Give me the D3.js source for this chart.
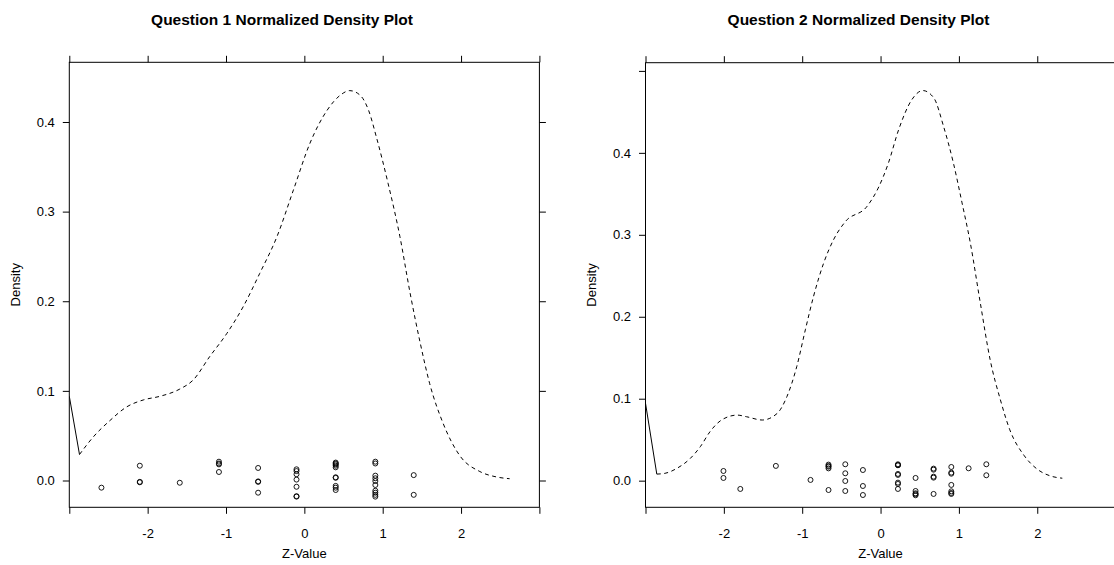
<!DOCTYPE html>
<html>
<head>
<meta charset="utf-8">
<script src="https://cdn.jsdelivr.net/npm/d3@7"></script>
<style>
  html, body { margin: 0; padding: 0; background: #fff; }
  svg { display: block; }
  text { font-family: "Liberation Sans", Arial, Helvetica, sans-serif; fill: #000; }
</style>
</head>
<body>
<svg id="chart" width="1114" height="565"></svg>
<script>
// ---------------- DATA ----------------
const xTickValues = [-3, -2, -1, 0, 1, 2, 3];
const xTickLabels = ["", "-2", "-1", "0", "1", "2", ""];

const q1YTickValues = [0, 0.1, 0.2, 0.3, 0.4];
const q1YTickLabels = ["0.0", "0.1", "0.2", "0.3", "0.4"];
const q2YTickValues = [0, 0.1, 0.2, 0.3, 0.4, 0.5];
const q2YTickLabels = ["0.0", "0.1", "0.2", "0.3", "0.4", ""];

// Question 1
const q1SolidZ = [-3.0, -2.87];
const q1SolidD = [0.094, 0.029];
const q1CurveZ = [-2.87, -2.69, -2.48, -2.27, -2.05, -1.84, -1.59, -1.42, -1.21, -0.99, -0.78, -0.57, -0.35, -0.14, 0.07, 0.29, 0.46, 0.58, 0.71, 0.82, 0.92, 1.07, 1.22, 1.35, 1.48, 1.60, 1.77, 1.99, 2.24, 2.45, 2.62];
const q1CurveD = [0.029, 0.049, 0.067, 0.082, 0.090, 0.094, 0.102, 0.112, 0.138, 0.164, 0.194, 0.231, 0.272, 0.324, 0.376, 0.413, 0.430, 0.435, 0.430, 0.413, 0.383, 0.331, 0.272, 0.209, 0.153, 0.108, 0.064, 0.027, 0.010, 0.004, 0.002];
const q1PointZ = [-2.59,
  -2.10, -2.10, -2.10,
  -1.59,
  -1.09, -1.09, -1.09, -1.09,
  -0.59, -0.59, -0.59, -0.59,
  -0.10, -0.10, -0.10, -0.10, -0.10, -0.10, -0.10,
  0.40, 0.40, 0.40, 0.40, 0.40, 0.40, 0.40, 0.40, 0.40, 0.40,
  0.906, 0.906, 0.906, 0.906, 0.906, 0.906, 0.906, 0.906, 0.906, 0.906,
  1.396, 1.396];
const q1PointD = [-0.008,
  0.0165, -0.002, -0.0015,
  -0.0025,
  0.021, 0.019, 0.018, 0.0095,
  0.014, -0.001, -0.0015, -0.0136,
  0.0125, 0.0105, 0.007, 0.001, -0.007, -0.0175, -0.018,
  0.020, 0.019, 0.018, 0.0165, 0.0147, 0.0036, 0.003, -0.006, -0.008, -0.0106,
  0.021, 0.019, 0.0054, 0.0025, -0.0006, -0.005, -0.0114, -0.0136, -0.016, -0.018,
  0.006, -0.016];

// Question 2
const q2SolidZ = [-3.0, -2.856];
const q2SolidD = [0.0945, 0.008];
const q2CurveZ = [-2.856, -2.75, -2.60, -2.43, -2.30, -2.175, -2.03, -1.83, -1.71, -1.51, -1.32, -1.195, -1.07, -0.96, -0.855, -0.728, -0.60, -0.45, -0.17, -0.03, 0.10, 0.23, 0.40, 0.54, 0.68, 0.805, 0.93, 1.04, 1.146, 1.273, 1.40, 1.53, 1.65, 1.83, 2.00, 2.17, 2.32];
const q2CurveD = [0.008, 0.009, 0.015, 0.027, 0.0415, 0.060, 0.074, 0.080, 0.078, 0.074, 0.082, 0.1026, 0.139, 0.184, 0.225, 0.265, 0.294, 0.316, 0.335, 0.357, 0.3875, 0.428, 0.465, 0.476, 0.467, 0.432, 0.3875, 0.339, 0.290, 0.217, 0.147, 0.0985, 0.062, 0.031, 0.014, 0.0057, 0.003];
const q2PointZ = [-2.005, -2.005,
  -1.79,
  -1.336,
  -0.894,
  -0.664, -0.664, -0.664, -0.664, -0.664,
  -0.45, -0.45, -0.45, -0.45,
  -0.225, -0.225, -0.225,
  0.222, 0.222, 0.222, 0.222, 0.222, 0.222, 0.222, 0.222,
  0.447, 0.447, 0.447, 0.447, 0.447,
  0.677, 0.677, 0.677, 0.677, 0.677,
  0.903, 0.903, 0.903, 0.903, 0.903, 0.903, 0.903,
  1.124,
  1.35, 1.35];
const q2PointD = [0.0118, 0.0033,
  -0.0101,
  0.018,
  0.0009,
  0.0196, 0.018, 0.017, 0.015, -0.0114,
  0.020, 0.009, -0.0004, -0.0126,
  0.013, -0.0065, -0.0175,
  0.020, 0.019, 0.0188, 0.0082, 0.007, -0.0024, -0.004, -0.0101,
  0.0033, -0.0126, -0.0154, -0.0165, -0.0178,
  0.0147, 0.0134, 0.0049, 0.0037, -0.0162,
  0.0167, 0.0098, 0.0085, -0.0052, -0.013, -0.0150, -0.0162,
  0.0151,
  0.020, 0.0066];

// ---------------- DRAW ----------------
const svg = d3.select("#chart");

function panel(cfg) {
  const { left, top, width, height, xDomain, yDomain, yTicks, yLabels, title,
          solidZ, solidD, curveZ, curveD, pointZ, pointD, id, titleX } = cfg;
  const x = d3.scaleLinear().domain(xDomain).range([left, left + width]);
  const y = d3.scaleLinear().domain(yDomain).range([top + height, top]);
  const TS = 6.5;

  const xLab = d => xTickLabels[xTickValues.indexOf(d)];
  const yLab = d => yLabels[yTicks.indexOf(d)];

  const axes = [
    svg.append("g").attr("transform", `translate(0,${top + height})`)
      .call(d3.axisBottom(x).tickValues(xTickValues).tickFormat(xLab).tickSize(TS).tickSizeOuter(0).tickPadding(15)),
    svg.append("g").attr("transform", `translate(0,${top})`)
      .call(d3.axisTop(x).tickValues(xTickValues).tickFormat("").tickSize(TS).tickSizeOuter(0)),
    svg.append("g").attr("transform", `translate(${left},0)`)
      .call(d3.axisLeft(y).tickValues(yTicks).tickFormat(yLab).tickSize(TS).tickSizeOuter(0).tickPadding(8)),
    svg.append("g").attr("transform", `translate(${left + width},0)`)
      .call(d3.axisRight(y).tickValues(yTicks).tickFormat("").tickSize(TS).tickSizeOuter(0))
  ];
  axes.forEach(g => {
    g.select(".domain").remove();
    g.selectAll("line").attr("stroke", "#000").attr("stroke-width", 1);
    g.selectAll("text").attr("font-size", 13).attr("fill", "#000")
      .attr("font-family", '"Liberation Sans", Arial, sans-serif');
  });

  // frame
  svg.append("rect")
    .attr("x", left).attr("y", top).attr("width", width).attr("height", height)
    .attr("fill", "none").attr("stroke", "#000").attr("stroke-width", 1);

  svg.append("clipPath").attr("id", id)
    .append("rect").attr("x", left).attr("y", top).attr("width", width).attr("height", height);
  const plot = svg.append("g").attr("clip-path", `url(#${id})`);

  const line = d3.line().x(d => x(d[0])).y(d => y(d[1]));
  plot.append("path")
    .datum(solidZ.map((z, i) => [z, solidD[i]]))
    .attr("d", line)
    .attr("fill", "none").attr("stroke", "#000").attr("stroke-width", 1);

  plot.append("path")
    .datum(curveZ.map((z, i) => [z, curveD[i]]))
    .attr("d", line.curve(d3.curveMonotoneX))
    .attr("fill", "none").attr("stroke", "#000").attr("stroke-width", 1)
    .attr("stroke-dasharray", "4,3.5");

  plot.selectAll("circle.pt")
    .data(pointZ.map((z, i) => [z, pointD[i]]))
    .enter().append("circle")
    .attr("class", "pt")
    .attr("cx", d => x(d[0])).attr("cy", d => y(d[1]))
    .attr("r", 2.5)
    .attr("fill", "none").attr("stroke", "#000").attr("stroke-width", 0.9);

  // titles
  svg.append("text")
    .attr("x", titleX).attr("y", 25)
    .attr("text-anchor", "middle")
    .attr("font-size", 15.5).attr("font-weight", "bold")
    .text(title);
  svg.append("text")
    .attr("x", left + width / 2).attr("y", 558)
    .attr("text-anchor", "middle")
    .attr("font-size", 13)
    .text("Z-Value");
  svg.append("text")
    .attr("transform", `translate(${left - 49.5},${top + height / 2}) rotate(-90)`)
    .attr("text-anchor", "middle")
    .attr("font-size", 13)
    .text("Density");
}

panel({
  id: "clip1", left: 69.3, top: 62.3, width: 470.1, height: 445,
  xDomain: [-3, 3], yDomain: [-0.0299, 0.4666],
  yTicks: q1YTickValues, yLabels: q1YTickLabels,
  title: "Question 1 Normalized Density Plot", titleX: 282,
  solidZ: q1SolidZ, solidD: q1SolidD, curveZ: q1CurveZ, curveD: q1CurveD,
  pointZ: q1PointZ, pointD: q1PointD
});

panel({
  id: "clip2", left: 645.5, top: 62.7, width: 470.1, height: 444.6,
  xDomain: [-3, 3], yDomain: [-0.0325, 0.510],
  yTicks: q2YTickValues, yLabels: q2YTickLabels,
  title: "Question 2 Normalized Density Plot", titleX: 858.5,
  solidZ: q2SolidZ, solidD: q2SolidD, curveZ: q2CurveZ, curveD: q2CurveD,
  pointZ: q2PointZ, pointD: q2PointD
});
</script>
</body>
</html>
